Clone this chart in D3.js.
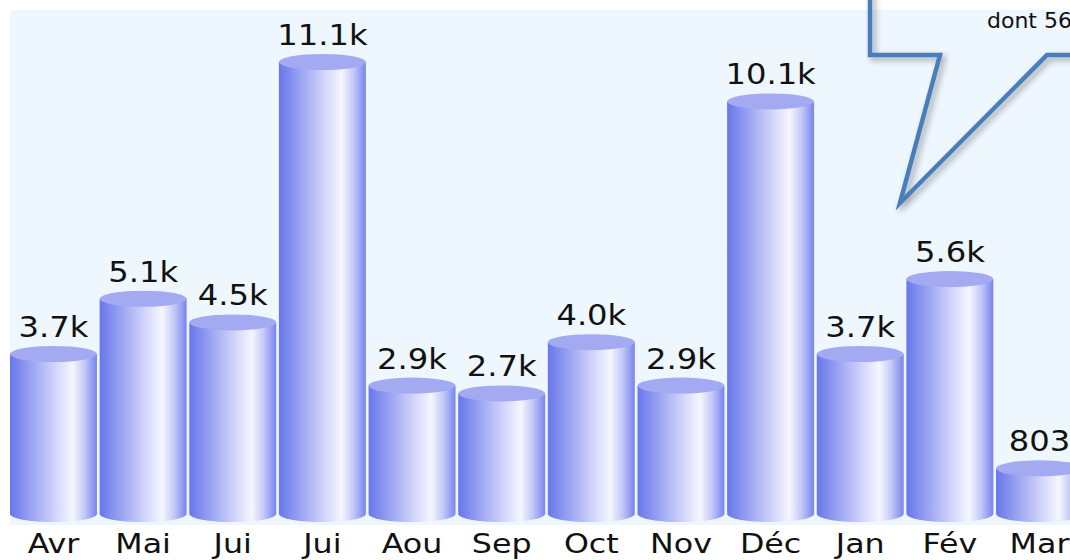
<html>
<head>
<meta charset="utf-8">
<title>Mois</title>
<style>
  body { margin:0; background:#fff; }
  .val { font-family:"DejaVu Sans", Verdana, sans-serif; font-size:28px; fill:#111; }
  .cat { font-family:"DejaVu Sans", Verdana, sans-serif; font-size:26px; fill:#111; }
  .note { font-family:"DejaVu Sans", sans-serif; font-size:22px; fill:#111; }
</style>
</head>
<body>
<script src="https://cdn.jsdelivr.net/npm/d3@7"></script>
<script>
var width = 1070, height = 560;

// data
var months = ["Avr","Mai","Jui","Jui","Aou","Sep","Oct","Nov","Déc","Jan","Fév","Mar"];
var visits = [3700, 5100, 4500, 11100, 2900, 2700, 4000, 2900, 10100, 3700, 5600, 803];
var noteText = "dont 56";

var plot = {left:10, top:10, right:1070, bottom:525};
var ground = 514, ry = 8;

var svg = d3.select("body").append("svg")
    .attr("width", width)
    .attr("height", height);

var defs = svg.append("defs");
var grad = defs.append("linearGradient").attr("id","cyl")
    .attr("x1","0%").attr("x2","100%").attr("y1","0%").attr("y2","0%");
[[0,"#6777ea"],[0.3,"#a5adf3"],[0.55,"#d7dafa"],[0.72,"#f6f6ff"],[0.86,"#c2c7f7"],[1,"#7784ee"]]
  .forEach(function(s){ grad.append("stop").attr("offset", s[0]).attr("stop-color", s[1]); });

var sh = defs.append("filter").attr("id","shadow")
    .attr("x","-20%").attr("y","-20%").attr("width","150%").attr("height","150%");
sh.append("feDropShadow").attr("dx",3).attr("dy",3).attr("stdDeviation",3)
    .attr("flood-color","#000").attr("flood-opacity",0.35);

svg.append("rect")
    .attr("x", plot.left).attr("y", plot.top)
    .attr("width", plot.right - plot.left).attr("height", plot.bottom - plot.top)
    .attr("fill", "#eef6fe");

var idx = d3.range(months.length);
var x = d3.scaleBand().domain(idx).range([10, 1083]).paddingInner(0.03).paddingOuter(0);
var y = d3.scaleLinear().domain([0, d3.max(visits)]).range([500, 62]);

var fmt = function(v){ return v >= 1000 ? (v/1000).toFixed(1) + "k" : String(v); };

var bars = svg.append("g").selectAll("g").data(idx).enter().append("g");

bars.append("path")
    .attr("fill", "url(#cyl)")
    .attr("d", function(i){
        var x0 = x(i), w = x.bandwidth(), t = y(visits[i]);
        return "M" + x0 + "," + t + "L" + x0 + "," + ground +
               "A" + (w/2) + "," + ry + " 0 0 0 " + (x0 + w) + "," + ground +
               "L" + (x0 + w) + "," + t + "Z";
    });

bars.append("ellipse")
    .attr("cx", function(i){ return x(i) + x.bandwidth()/2; })
    .attr("cy", function(i){ return y(visits[i]); })
    .attr("rx", x.bandwidth()/2)
    .attr("ry", ry)
    .attr("fill", "#a3aaf2");

bars.append("text")
    .attr("class","val")
    .attr("text-anchor","middle")
    .attr("transform", function(i){
        return "translate(" + (x(i) + x.bandwidth()/2) + "," + (y(visits[i]) - 17) + ") scale(1.15,1)";
    })
    .text(function(i){ return fmt(visits[i]); });

bars.append("text")
    .attr("class","cat")
    .attr("text-anchor","middle")
    .attr("transform", function(i){
        return "translate(" + (x(i) + x.bandwidth()/2) + ",553) scale(1.22,1)";
    })
    .text(function(i){ return months[i]; });

// callout bubble (outline only)
svg.append("path")
    .attr("d","M870,-20L870,55L940,55L900,203L1047,55L1100,55")
    .attr("fill","none")
    .attr("stroke","#4a7ebb")
    .attr("stroke-width",4.5)
    .attr("stroke-linejoin","miter")
    .attr("filter","url(#shadow)");

svg.append("text")
    .attr("class","note")
    .attr("x", 987).attr("y", 28)
    .text(noteText);
</script>
</body>
</html>
